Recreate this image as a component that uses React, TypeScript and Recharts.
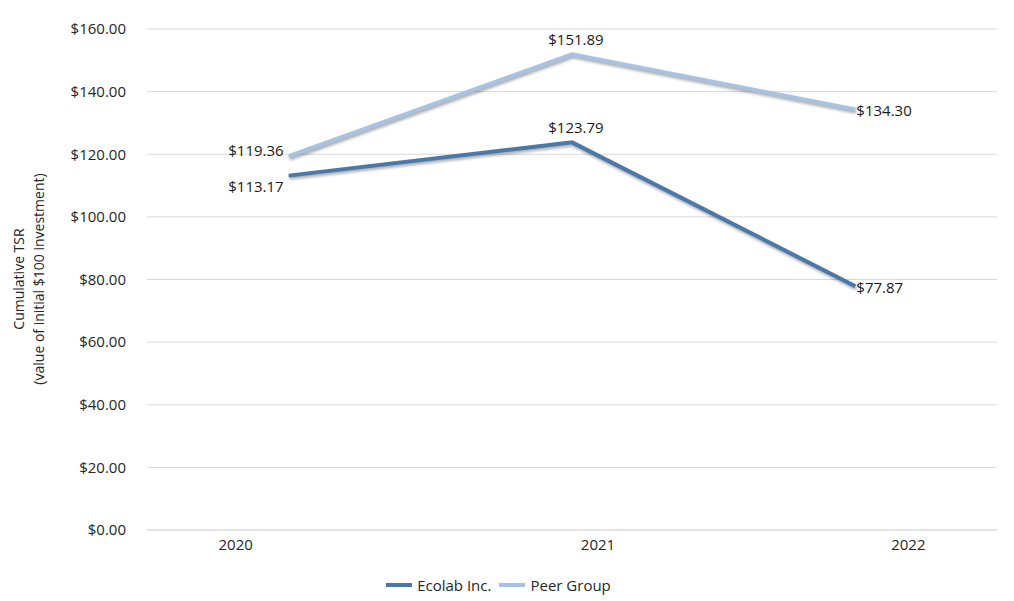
import React from "react";
import { LineChart, Line, XAxis, YAxis, CartesianGrid, Legend, LabelList } from "recharts";

const years = ["2020", "2021", "2022"];
const ecolab = [113.17, 123.79, 77.87];
const peer = [119.36, 151.89, 134.3];
const yTicks = [0, 20, 40, 60, 80, 100, 120, 140, 160];

const data = years.map((y, i) => ({ year: y, ecolab: ecolab[i], peer: peer[i] }));

const FONT = "'Open Sans', 'Noto Sans', sans-serif";
const ECO = "#4a78a8";
const PEER = "#a8c2e2";
const money = (v: number) => `$${v.toFixed(2)}`;

const ecoPos = ["left", "top", "right"];
const peerPos = ["left", "top", "right"];
const tickShift = [-53, 26, 53];

const makeLabel = (pos: string[], dyLeft: number) => (props: any) => {
  const { x, y, value, index } = props;
  const p = pos[index];
  let tx = x, ty = y, anchor: any = "middle";
  if (p === "left") { tx = x - 5; ty = y + dyLeft; anchor = "end"; }
  else if (p === "top") { tx = x + 4; ty = y - 15; anchor = "middle"; }
  else { tx = x + 1; ty = y + 1; anchor = "start"; }
  return (
    <text x={tx} y={ty} textAnchor={anchor} dominantBaseline="central" fontSize={15} fill="#1a1a1a" fontFamily={FONT}>
      {money(value)}
    </text>
  );
};

const XTick = (props: any) => {
  const { x, y, payload, index } = props;
  return (
    <text x={x + tickShift[index]} y={y + 12} textAnchor="middle" fontSize={15} fill="#262626" fontFamily={FONT}>
      {payload.value}
    </text>
  );
};

const YLabel = () => (
  <g transform="translate(29,279) rotate(-90)">
    <text textAnchor="middle" fontSize={14} fill="#262626" fontFamily={FONT}>
      <tspan x={0} y={-5}>Cumulative TSR</tspan>
      <tspan x={0} y={15}>(value of initial $100 investment)</tspan>
    </text>
  </g>
);

const LegendContent = () => (
  <div style={{ display: "flex", justifyContent: "center", alignItems: "center", fontFamily: FONT, fontSize: 15, color: "#262626", height: 24 }}>
    <span style={{ display: "inline-block", width: 26, height: 4, background: ECO, marginRight: 5 }} />
    <span style={{ marginRight: 8 }}>Ecolab Inc.</span>
    <span style={{ display: "inline-block", width: 26, height: 4, background: PEER, marginRight: 5 }} />
    <span>Peer Group</span>
  </div>
);

export default function App() {
  return (
    <div style={{ position: "absolute", left: 0, top: 0, width: 1014, height: 601, background: "#fff" }}>
      <style>{`.shadowline path.recharts-curve { filter: drop-shadow(1.5px 2px 1.5px rgba(0,0,0,0.35)); }`}</style>
      <LineChart width={1014} height={601} data={data} margin={{ top: 29, right: 17, bottom: 4, left: 0 }}>
        <CartesianGrid vertical={false} stroke="#d9d9d9" strokeWidth={1} />
        <XAxis dataKey="year" scale="band" axisLine={{ stroke: "#d9d9d9" }} tickLine={false} tick={<XTick />} height={43} interval={0} />
        <YAxis
          domain={[0, 160]}
          ticks={yTicks}
          tickFormatter={money}
          axisLine={false}
          tickLine={false}
          width={147}
          tickMargin={15}
          tick={{ fontSize: 15, fill: "#262626", fontFamily: FONT }}
          label={<YLabel />}
        />
        <Legend verticalAlign="bottom" height={24} content={<LegendContent />} />
        <Line className="shadowline" type="linear" dataKey="ecolab" name="Ecolab Inc." stroke={ECO} strokeWidth={4} dot={false} isAnimationActive={false}>
          <LabelList dataKey="ecolab" content={makeLabel(ecoPos, 10)} />
        </Line>
        <Line className="shadowline" type="linear" dataKey="peer" name="Peer Group" stroke={PEER} strokeWidth={4} dot={false} isAnimationActive={false}>
          <LabelList dataKey="peer" content={makeLabel(peerPos, -6)} />
        </Line>
      </LineChart>
    </div>
  );
}
